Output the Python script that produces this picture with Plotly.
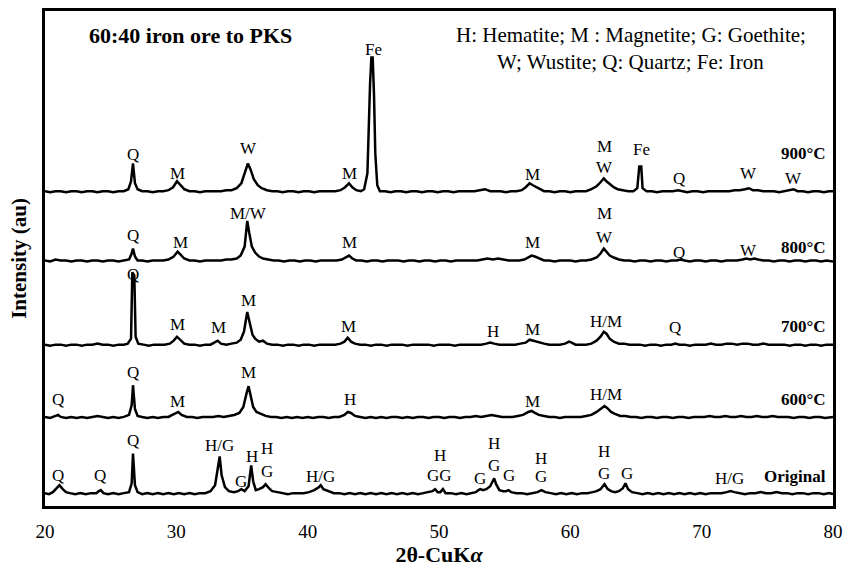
import plotly.graph_objects as go

# ---------------- data (2theta, intensity above each pattern's baseline, au) ----------------
tick_vals = [20, 30, 40, 50, 60, 70, 80]
series_names = ["Original", "600", "700", "800", "900"]
series_offsets = [11, 88, 161, 246, 316]
temp_labels = ["Original", "600\u00b0C", "700\u00b0C", "800\u00b0C", "900\u00b0C"]
temp_label_heights = [19, 20, 20, 15, 40]

original_pts = [
    (20.0, 2), (20.3, 1), (20.6, 3), (20.85, 6), (21.1, 10), (21.35, 6), (21.6, 3), (21.9, 2), (22.3, 1), (22.7, 2),
    (23.1, 1), (23.5, 2), (23.9, 2), (24.1, 4), (24.25, 5), (24.45, 2), (24.8, 1), (25.2, 2), (25.6, 1), (26.0, 2),
    (26.4, 3), (26.6, 12), (26.7, 42), (26.85, 10), (27.05, 3), (27.4, 1), (27.8, 2), (28.2, 1), (28.6, 2), (29.0, 1),
    (29.4, 2), (29.8, 1), (30.2, 2), (30.6, 1), (31.0, 2), (31.4, 1), (31.8, 2), (32.2, 2), (32.6, 4), (32.95, 10),
    (33.2, 28), (33.3, 39), (33.45, 20), (33.7, 8), (34.0, 4), (34.4, 3), (34.7, 4), (34.95, 6), (35.2, 4), (35.5, 9),
    (35.7, 30), (35.85, 14), (36.05, 5), (36.3, 6), (36.6, 8), (36.8, 11), (37.05, 7), (37.3, 4), (37.7, 3), (38.1, 2),
    (38.5, 1), (38.9, 2), (39.3, 2), (39.7, 2), (40.1, 3), (40.5, 5), (40.85, 8), (41.0, 10), (41.2, 6), (41.6, 4),
    (42.0, 2), (42.4, 2), (42.8, 1), (43.2, 2), (43.6, 1), (44.0, 2), (44.4, 1), (44.8, 2), (45.2, 1), (45.6, 2),
    (46.0, 1), (46.4, 2), (46.8, 1), (47.2, 2), (47.6, 1), (48.0, 2), (48.4, 1), (48.8, 2), (49.2, 3), (49.5, 4),
    (49.7, 6), (49.9, 3), (50.1, 3), (50.3, 6), (50.5, 2), (50.9, 2), (51.3, 1), (51.7, 2), (52.1, 1), (52.5, 2),
    (52.8, 3), (53.0, 5), (53.15, 6), (53.35, 5), (53.6, 6), (53.9, 9), (54.1, 14), (54.2, 17), (54.35, 11), (54.6, 5),
    (54.9, 4), (55.1, 4), (55.3, 5), (55.5, 3), (55.9, 2), (56.3, 2), (56.7, 1), (57.1, 2), (57.5, 3), (57.8, 5),
    (58.1, 3), (58.5, 2), (58.9, 1), (59.3, 2), (59.7, 1), (60.1, 2), (60.5, 1), (60.9, 2), (61.3, 2), (61.7, 3),
    (62.0, 4), (62.3, 6), (62.6, 11), (62.85, 6), (63.1, 4), (63.4, 3), (63.7, 4), (64.0, 7), (64.2, 12), (64.4, 6),
    (64.7, 3), (65.1, 2), (65.5, 1), (65.9, 2), (66.3, 1), (66.7, 2), (67.1, 1), (67.5, 2), (67.9, 1), (68.3, 2),
    (68.7, 1), (69.1, 2), (69.5, 1), (69.9, 2), (70.3, 1), (70.7, 2), (71.1, 2), (71.5, 2), (71.9, 3), (72.2, 4),
    (72.5, 3), (72.9, 2), (73.3, 1), (73.7, 2), (74.1, 2), (74.5, 3), (74.9, 2), (75.3, 2), (75.7, 3), (76.1, 2),
    (76.5, 2), (76.9, 1), (77.3, 2), (77.7, 2), (78.1, 1), (78.5, 2), (78.9, 2), (79.3, 1), (79.7, 2), (80.0, 1),
]

pts_600 = [
    (20.0, 2), (20.4, 1), (20.8, 3), (21.0, 4), (21.2, 2), (21.6, 1), (22.0, 2), (22.4, 1), (22.8, 2), (23.2, 1),
    (23.6, 2), (24.0, 3), (24.4, 2), (24.8, 1), (25.2, 2), (25.6, 1), (26.0, 2), (26.4, 4), (26.6, 14), (26.7, 34),
    (26.85, 10), (27.05, 3), (27.4, 2), (27.8, 1), (28.2, 2), (28.6, 1), (29.0, 2), (29.4, 2), (29.7, 4), (30.0, 6),
    (30.15, 7), (30.4, 4), (30.8, 2), (31.2, 2), (31.6, 1), (32.0, 2), (32.4, 2), (32.8, 2), (33.2, 3), (33.6, 2),
    (34.0, 3), (34.4, 4), (34.8, 6), (35.1, 12), (35.35, 26), (35.5, 33), (35.65, 24), (35.85, 12), (36.1, 7), (36.4, 5),
    (36.8, 3), (37.2, 2), (37.6, 2), (38.0, 1), (38.4, 2), (38.8, 1), (39.2, 2), (39.6, 1), (40.0, 2), (40.4, 1),
    (40.8, 2), (41.2, 2), (41.6, 1), (42.0, 2), (42.4, 2), (42.8, 4), (43.05, 7), (43.3, 6), (43.6, 3), (44.0, 2),
    (44.4, 1), (44.8, 2), (45.2, 1), (45.6, 2), (46.0, 1), (46.4, 2), (46.8, 2), (47.2, 1), (47.6, 2), (48.0, 1),
    (48.4, 2), (48.8, 2), (49.2, 1), (49.6, 2), (50.0, 2), (50.4, 1), (50.8, 2), (51.2, 2), (51.6, 1), (52.0, 2),
    (52.4, 2), (52.8, 3), (53.2, 2), (53.6, 3), (54.0, 4), (54.4, 3), (54.8, 2), (55.2, 2), (55.6, 2), (56.0, 3),
    (56.4, 4), (56.8, 7), (57.05, 8), (57.3, 6), (57.6, 4), (58.0, 3), (58.4, 2), (58.8, 2), (59.2, 1), (59.6, 2),
    (60.0, 2), (60.4, 2), (60.8, 2), (61.2, 3), (61.6, 4), (62.0, 7), (62.3, 10), (62.6, 13), (62.8, 11), (63.1, 7),
    (63.4, 5), (63.8, 3), (64.2, 3), (64.6, 2), (65.0, 2), (65.4, 1), (65.8, 2), (66.2, 2), (66.6, 1), (67.0, 2),
    (67.4, 2), (67.8, 1), (68.2, 2), (68.6, 2), (69.0, 1), (69.4, 2), (69.8, 2), (70.2, 2), (70.6, 3), (71.0, 2),
    (71.4, 2), (71.8, 3), (72.2, 2), (72.6, 2), (73.0, 3), (73.4, 2), (73.8, 2), (74.2, 3), (74.6, 2), (75.0, 2),
    (75.4, 3), (75.8, 2), (76.2, 2), (76.6, 2), (77.0, 1), (77.4, 2), (77.8, 2), (78.2, 1), (78.6, 2), (79.0, 2),
    (79.4, 1), (79.8, 2), (80.0, 2),
]

pts_700 = [
    (20.0, 2), (20.4, 1), (20.8, 2), (21.2, 2), (21.6, 1), (22.0, 2), (22.4, 2), (22.8, 1), (23.2, 2), (23.6, 2),
    (24.0, 3), (24.4, 2), (24.8, 2), (25.2, 1), (25.6, 2), (26.0, 2), (26.3, 3), (26.55, 8), (26.65, 75), (26.8, 72),
    (26.9, 10), (27.1, 3), (27.5, 2), (27.9, 1), (28.3, 2), (28.7, 2), (29.1, 2), (29.5, 3), (29.8, 6), (30.05, 10),
    (30.3, 7), (30.6, 3), (31.0, 2), (31.4, 2), (31.8, 1), (32.2, 2), (32.6, 2), (32.9, 4), (33.15, 6), (33.4, 3),
    (33.8, 2), (34.2, 3), (34.6, 4), (34.9, 7), (35.15, 15), (35.4, 35), (35.6, 24), (35.8, 12), (36.0, 8), (36.3, 5),
    (36.6, 6), (36.9, 3), (37.3, 2), (37.7, 2), (38.1, 1), (38.5, 2), (38.9, 2), (39.3, 1), (39.7, 2), (40.1, 2),
    (40.5, 1), (40.9, 2), (41.3, 2), (41.7, 2), (42.1, 2), (42.5, 3), (42.8, 5), (43.05, 9), (43.3, 5), (43.6, 3),
    (44.0, 2), (44.4, 2), (44.8, 1), (45.2, 2), (45.6, 2), (46.0, 1), (46.4, 2), (46.8, 2), (47.2, 2), (47.6, 1),
    (48.0, 2), (48.4, 2), (48.8, 2), (49.2, 2), (49.6, 1), (50.0, 2), (50.4, 2), (50.8, 2), (51.2, 1), (51.6, 2),
    (52.0, 2), (52.4, 2), (52.8, 2), (53.2, 2), (53.6, 3), (53.9, 4), (54.2, 3), (54.6, 2), (55.0, 2), (55.4, 2),
    (55.8, 2), (56.2, 3), (56.6, 4), (56.9, 7), (57.15, 6), (57.4, 5), (57.7, 4), (58.0, 3), (58.4, 2), (58.8, 2),
    (59.2, 2), (59.6, 3), (59.9, 5), (60.1, 4), (60.4, 2), (60.8, 2), (61.2, 2), (61.6, 3), (62.0, 6), (62.3, 10),
    (62.55, 15), (62.75, 13), (63.0, 8), (63.3, 5), (63.7, 3), (64.1, 3), (64.5, 2), (64.9, 2), (65.3, 2), (65.7, 1),
    (66.1, 2), (66.5, 2), (66.9, 1), (67.3, 2), (67.7, 2), (68.0, 3), (68.3, 2), (68.7, 2), (69.1, 1), (69.5, 2),
    (69.9, 2), (70.3, 2), (70.7, 3), (71.1, 2), (71.5, 2), (71.9, 3), (72.3, 3), (72.7, 2), (73.1, 3), (73.5, 3),
    (73.9, 2), (74.3, 2), (74.7, 3), (75.1, 2), (75.5, 2), (75.9, 2), (76.3, 2), (76.7, 1), (77.1, 2), (77.5, 2),
    (77.9, 1), (78.3, 2), (78.7, 2), (79.1, 1), (79.5, 2), (80.0, 2),
]

pts_800 = [
    (20.0, 2), (20.4, 1), (20.8, 3), (21.2, 2), (21.6, 2), (22.0, 1), (22.4, 2), (22.8, 2), (23.2, 1), (23.6, 2),
    (24.0, 2), (24.4, 1), (24.8, 2), (25.2, 2), (25.6, 1), (26.0, 2), (26.4, 3), (26.6, 9), (26.7, 14), (26.85, 6),
    (27.05, 2), (27.4, 2), (27.8, 1), (28.2, 2), (28.6, 2), (29.0, 2), (29.4, 3), (29.8, 6), (30.1, 11), (30.35, 8),
    (30.6, 4), (31.0, 2), (31.4, 2), (31.8, 1), (32.2, 2), (32.6, 2), (33.0, 2), (33.4, 2), (33.8, 3), (34.2, 3),
    (34.6, 4), (34.9, 7), (35.2, 16), (35.4, 42), (35.55, 30), (35.75, 16), (36.0, 10), (36.3, 6), (36.6, 4), (37.0, 3),
    (37.4, 2), (37.8, 2), (38.2, 1), (38.6, 2), (39.0, 2), (39.4, 1), (39.8, 2), (40.2, 2), (40.6, 1), (41.0, 2),
    (41.4, 2), (41.8, 2), (42.2, 2), (42.6, 3), (42.9, 5), (43.15, 7), (43.4, 4), (43.7, 2), (44.1, 2), (44.5, 1),
    (44.9, 2), (45.3, 2), (45.7, 1), (46.1, 2), (46.5, 2), (46.9, 2), (47.3, 1), (47.7, 2), (48.1, 2), (48.5, 1),
    (48.9, 2), (49.3, 2), (49.7, 1), (50.1, 2), (50.5, 2), (50.9, 1), (51.3, 2), (51.7, 2), (52.1, 2), (52.5, 2),
    (52.9, 2), (53.3, 3), (53.7, 4), (54.1, 3), (54.5, 4), (54.9, 3), (55.3, 2), (55.7, 2), (56.1, 2), (56.5, 3),
    (56.8, 5), (57.05, 7), (57.3, 6), (57.6, 4), (58.0, 2), (58.4, 2), (58.8, 1), (59.2, 2), (59.6, 2), (60.0, 2),
    (60.4, 1), (60.8, 2), (61.2, 2), (61.6, 3), (62.0, 5), (62.3, 9), (62.55, 14), (62.75, 11), (63.0, 7), (63.3, 5),
    (63.7, 3), (64.1, 2), (64.5, 2), (64.9, 1), (65.3, 2), (65.7, 2), (66.1, 1), (66.5, 2), (66.9, 2), (67.3, 1),
    (67.7, 2), (68.1, 2), (68.4, 3), (68.7, 2), (69.1, 1), (69.5, 2), (69.9, 2), (70.3, 1), (70.7, 2), (71.1, 2),
    (71.5, 1), (71.9, 2), (72.3, 2), (72.7, 2), (73.1, 3), (73.4, 4), (73.7, 3), (74.0, 4), (74.3, 3), (74.7, 2),
    (75.1, 2), (75.5, 1), (75.9, 2), (76.3, 2), (76.7, 1), (77.1, 2), (77.5, 2), (77.9, 1), (78.3, 2), (78.7, 2),
    (79.1, 1), (79.5, 2), (80.0, 1),
]

pts_900 = [
    (20.0, 2), (20.4, 1), (20.8, 2), (21.2, 2), (21.6, 1), (22.0, 2), (22.4, 2), (22.8, 1), (23.2, 2), (23.6, 2),
    (24.0, 1), (24.4, 2), (24.8, 2), (25.2, 1), (25.6, 2), (26.0, 2), (26.35, 4), (26.55, 12), (26.7, 30), (26.85, 10),
    (27.05, 4), (27.4, 2), (27.8, 2), (28.2, 1), (28.6, 2), (29.0, 2), (29.4, 3), (29.75, 6), (30.05, 12), (30.3, 8),
    (30.6, 4), (31.0, 2), (31.4, 2), (31.8, 1), (32.2, 2), (32.6, 2), (33.0, 2), (33.4, 2), (33.8, 3), (34.2, 3),
    (34.6, 5), (34.95, 10), (35.25, 22), (35.45, 30), (35.65, 24), (35.9, 14), (36.2, 8), (36.5, 5), (36.9, 3), (37.3, 2),
    (37.7, 2), (38.1, 1), (38.5, 2), (38.9, 2), (39.3, 1), (39.7, 2), (40.1, 2), (40.5, 1), (40.9, 2), (41.3, 2),
    (41.7, 2), (42.1, 2), (42.5, 3), (42.85, 6), (43.15, 10), (43.4, 6), (43.7, 3), (44.05, 2), (44.3, 4), (44.55, 20),
    (44.75, 110), (44.85, 137), (44.95, 137), (45.05, 100), (45.15, 40), (45.3, 8), (45.5, 2), (45.9, 2), (46.3, 1), (46.7, 2),
    (47.1, 2), (47.5, 1), (47.9, 2), (48.3, 2), (48.7, 1), (49.1, 2), (49.5, 2), (49.9, 1), (50.3, 2), (50.7, 2),
    (51.1, 1), (51.5, 2), (51.9, 2), (52.3, 2), (52.7, 2), (53.1, 3), (53.5, 4), (53.9, 2), (54.3, 2), (54.7, 2),
    (55.1, 1), (55.5, 2), (55.9, 2), (56.3, 3), (56.6, 6), (56.9, 10), (57.15, 8), (57.4, 6), (57.7, 4), (58.0, 2),
    (58.4, 2), (58.8, 1), (59.2, 2), (59.6, 2), (60.0, 1), (60.4, 2), (60.8, 2), (61.2, 2), (61.6, 4), (62.0, 7),
    (62.3, 11), (62.55, 15), (62.75, 12), (63.0, 9), (63.3, 6), (63.6, 4), (64.0, 3), (64.4, 2), (64.8, 2), (65.1, 5),
    (65.25, 27), (65.4, 27), (65.5, 5), (65.8, 2), (66.2, 2), (66.6, 1), (67.0, 2), (67.4, 2), (67.8, 2), (68.2, 3),
    (68.5, 2), (68.9, 1), (69.3, 2), (69.7, 2), (70.1, 1), (70.5, 2), (70.9, 2), (71.3, 2), (71.7, 2), (72.1, 2),
    (72.5, 3), (72.9, 3), (73.3, 4), (73.6, 5), (73.9, 3), (74.3, 3), (74.7, 2), (75.1, 2), (75.5, 2), (75.9, 1),
    (76.3, 2), (76.7, 3), (77.0, 4), (77.3, 2), (77.7, 2), (78.1, 1), (78.5, 2), (78.9, 2), (79.3, 1), (79.7, 2),
    (80.0, 2),
]

# peak labels: (2theta, text, height of label centre above the pattern baseline)
labels_original = [
    (21.0, "Q", 20), (24.2, "Q", 20), (26.7, "Q", 55), (33.3, "H/G", 50), (34.9, "G", 14),
    (35.75, "H", 39), (36.9, "H", 47), (36.9, "G", 24), (41.0, "H/G", 19),
    (50.1, "H", 40), (50.0, "GG", 20), (53.1, "G", 17), (54.2, "H", 52), (54.2, "G", 30),
    (55.3, "G", 20), (57.8, "H", 37), (57.8, "G", 19), (62.6, "H", 44), (62.6, "G", 22),
    (64.3, "G", 22), (72.1, "H/G", 17),
]
labels_600 = [
    (21.0, "Q", 20), (26.7, "Q", 47), (30.1, "M", 18), (35.5, "M", 47), (43.2, "H", 20),
    (57.1, "M", 18), (62.7, "H/M", 25),
]
labels_700 = [
    (26.7, "Q", 73), (30.1, "M", 22), (33.2, "M", 19), (35.5, "M", 47), (43.1, "M", 20),
    (54.1, "H", 15), (57.1, "M", 17), (62.7, "H/M", 25), (68.0, "Q", 19),
]
labels_800 = [
    (26.7, "Q", 27), (30.3, "M", 20), (35.5, "M/W", 49), (43.2, "M", 20), (57.1, "M", 20),
    (62.6, "M", 49), (62.6, "W", 25), (68.3, "Q", 10), (73.6, "W", 12),
]
labels_900 = [
    (26.7, "Q", 39), (30.1, "M", 20), (35.5, "W", 45), (43.2, "M", 20), (45.0, "Fe", 145),
    (57.1, "M", 19), (62.6, "M", 47), (62.6, "W", 26), (65.4, "Fe", 44), (68.3, "Q", 15),
    (73.6, "W", 20), (77.0, "W", 15),
]

all_points = [original_pts, pts_600, pts_700, pts_800, pts_900]
all_labels = [labels_original, labels_600, labels_700, labels_800, labels_900]

chart_title = "60:40 iron ore to PKS"
phase_key = ["H: Hematite; M : Magnetite; G: Goethite;", "W; Wustite; Q: Quartz; Fe: Iron"]

# ---------------- figure ----------------
SERIF = "Liberation Serif, Times New Roman, serif"
fig = go.Figure()
annotations = []

for name, pts, off, labs, tlab, th in zip(series_names, all_points, series_offsets,
                                          all_labels, temp_labels, temp_label_heights):
    xs = [p[0] for p in pts]
    ys = [p[1] + off for p in pts]
    fig.add_trace(go.Scatter(x=xs, y=ys, mode="lines", name=name,
                             line=dict(color="black", width=2.5), showlegend=False,
                             hoverinfo="x+y"))
    for (lx, lt, lh) in labs:
        annotations.append(dict(x=lx, y=off + lh, xref="x", yref="y", text=lt,
                                showarrow=False, xanchor="center", yanchor="middle",
                                font=dict(family=SERIF, size=17, color="black")))
    annotations.append(dict(x=79.6, y=off + th, xref="x", yref="y", text="<b>" + tlab + "</b>",
                            showarrow=False, xanchor="right", yanchor="middle",
                            font=dict(family=SERIF, size=17, color="black")))

annotations.append(dict(x=31.06, y=475, xref="x", yref="y", text="<b>" + chart_title + "</b>",
                        showarrow=False, xanchor="center", yanchor="middle",
                        font=dict(family=SERIF, size=22, color="black")))
annotations.append(dict(x=64.6, y=476, xref="x", yref="y", text=phase_key[0],
                        showarrow=False, xanchor="center", yanchor="middle",
                        font=dict(family=SERIF, size=21, color="black")))
annotations.append(dict(x=64.6, y=448, xref="x", yref="y", text=phase_key[1],
                        showarrow=False, xanchor="center", yanchor="middle",
                        font=dict(family=SERIF, size=21, color="black")))

fig.update_layout(
    width=851, height=569,
    margin=dict(l=45, r=14, t=8, b=61),
    paper_bgcolor="white", plot_bgcolor="white",
    annotations=annotations,
    xaxis=dict(range=[20, 80], tickvals=tick_vals, ticks="", showgrid=False, zeroline=False,
               showline=True, mirror=True, linecolor="black", linewidth=3,
               tickfont=dict(family=SERIF, size=19, color="black"), ticklabelstandoff=6,
               title=dict(text="<b>2\u03b8-CuK<i>\u03b1</i></b>", standoff=4,
                          font=dict(family=SERIF, size=22, color="black"))),
    yaxis=dict(range=[0, 500], showticklabels=False, ticks="", showgrid=False, zeroline=False,
               showline=True, mirror=True, linecolor="black", linewidth=3,
               title=dict(text="<b>Intensity (au)</b>", standoff=10,
                          font=dict(family=SERIF, size=21, color="black"))),
)

fig.write_html("out.html")
